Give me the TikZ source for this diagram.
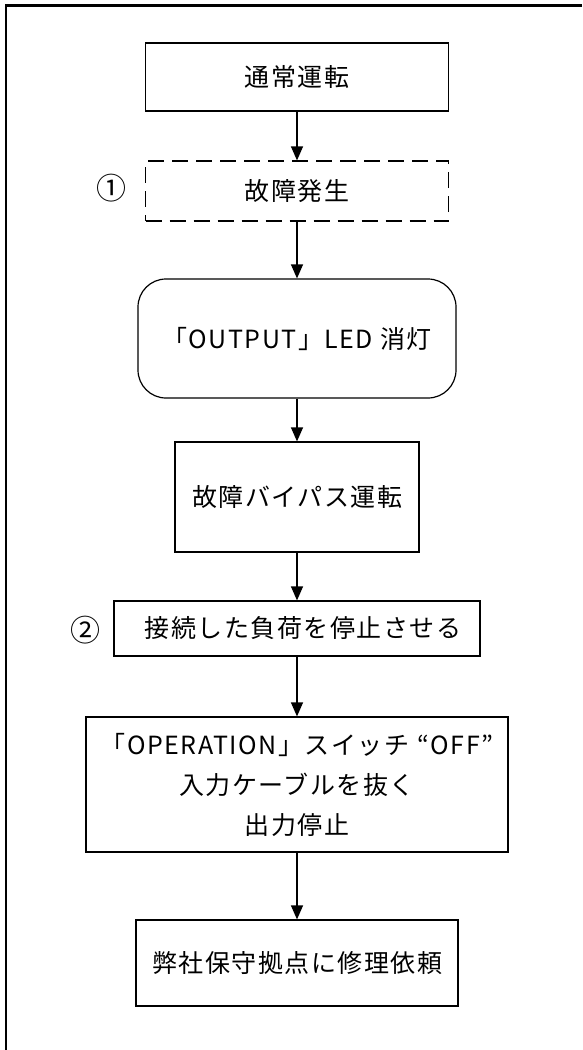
\documentclass[tikz,border=0pt]{standalone}
\usepackage{fontspec}
\setmainfont{Noto Sans CJK JP}[LetterSpace=6]
\usetikzlibrary{arrows.meta}
\begin{document}
\begin{tikzpicture}[x=1pt, y=-1pt, line width=1.2pt,
  >={Triangle[length=14pt,width=12pt]},
  every node/.style={font=\fontsize{25}{40}\selectfont},
  stepbox/.style={draw, align=center, inner sep=0pt},
  marknum/.style={font=\fontsize{30}{40}\selectfont}]
\useasboundingbox (0,0) rectangle (582,1050);
\draw[line width=2.2pt] (582,5.5) -- (6,5.5) -- (6,1050);
\node[stepbox, minimum width=303pt, minimum height=68pt] (normal) at (297,77) {通常運転};
\node[stepbox, dashed, dash pattern=on 16pt off 8pt, minimum width=303pt, minimum height=60pt] (fault) at (297,191) {故障発生};
\node[stepbox, rounded corners=28pt, minimum width=318pt, minimum height=119pt] (led) at (297,338.5) {「OUTPUT」LED 消灯};
\node[stepbox, minimum width=244pt, minimum height=110pt] (bypass) at (297,497) {故障バイパス運転};
\node[stepbox, minimum width=366pt, minimum height=55pt] (stopload) at (297,628.5) {\hspace*{12pt}接続した負荷を停止させる};
\node[stepbox, minimum width=422pt, minimum height=135pt] (opswitch) at (297,784.5) {「OPERATION」スイッチ\hspace{8pt}“OFF”\\入力ケーブルを抜く\\出力停止};
\node[stepbox, minimum width=322pt, minimum height=86pt] (repair) at (297,963) {弊社保守拠点に修理依頼};
\node[marknum] (num1) at (111,188) {①};
\node[marknum] (num2) at (85,630) {②};
\draw[->] (normal) -- (fault);
\draw[->] (fault) -- (led);
\draw[->] (led) -- (bypass);
\draw[->] (bypass) -- (stopload);
\draw[->] (stopload) -- (opswitch);
\draw[->] (opswitch) -- (repair);
\end{tikzpicture}
\end{document}
